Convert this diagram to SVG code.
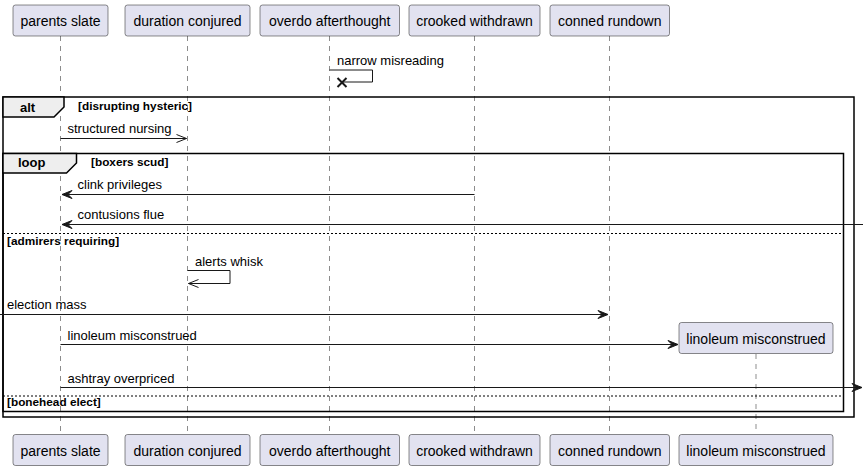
<svg xmlns="http://www.w3.org/2000/svg" width="868" height="470" viewBox="0 0 868 470">
<style>
.pbox{fill:#E2E2F0;stroke:#181818;stroke-width:0.5}
.ptxt{font-family:"Liberation Sans",Arial,sans-serif;font-size:14px;fill:#000;text-anchor:middle}
.life{stroke:#181818;stroke-width:0.5;stroke-dasharray:5,5;fill:none}
.msg{stroke:#181818;stroke-width:1;fill:none}
.mtxt{font-family:"Liberation Sans",Arial,sans-serif;font-size:13px;fill:#000}
.head{fill:#181818;stroke:#181818;stroke-width:1}
.frame{fill:none;stroke:#000;stroke-width:1.5}
.tab{fill:#EEEEEE;stroke:#000;stroke-width:1.5}
.ftxt{font-family:"Liberation Sans",Arial,sans-serif;font-size:13px;font-weight:bold;fill:#000}
.gtxt{font-family:"Liberation Sans",Arial,sans-serif;font-size:11.8px;font-weight:bold;fill:#000}
.div{stroke:#000;stroke-width:1;stroke-dasharray:2,2;fill:none}
</style>
<rect width="868" height="470" fill="#FFFFFF"/>
<g id="lifelines">
<line class="life" x1="60.5" y1="36" x2="60.5" y2="434"/>
<line class="life" x1="187.5" y1="36" x2="187.5" y2="434"/>
<line class="life" x1="329.5" y1="36" x2="329.5" y2="434"/>
<line class="life" x1="474.5" y1="36" x2="474.5" y2="434"/>
<line class="life" x1="609.5" y1="36" x2="609.5" y2="434"/>
<line class="life" x1="756" y1="354" x2="756" y2="434"/>
</g>
<g id="frames">
<rect class="frame" x="3" y="97" width="851" height="320"/>
<polygon class="tab" points="3,97 64,97 64,107 54,117 3,117"/>
<text class="ftxt" x="20" y="112">alt</text>
<text class="gtxt" x="78" y="110">[disrupting hysteric]</text>
<rect class="frame" x="3" y="153.5" width="840.5" height="258"/>
<polygon class="tab" points="3,153.5 76.5,153.5 76.5,163 66.5,173 3,173"/>
<text class="ftxt" x="18" y="167">loop</text>
<text class="gtxt" x="91" y="166">[boxers scud]</text>
<line class="div" x1="3" y1="233.5" x2="843.5" y2="233.5"/>
<text class="gtxt" x="7" y="245">[admirers requiring]</text>
<line class="div" x1="3" y1="396" x2="843.5" y2="396"/>
<text class="gtxt" x="7" y="406">[bonehead elect]</text>
</g>
<g id="connectors">
<polyline class="msg" points="329.5,70 372.5,70 372.5,82 342,82"/>
<g stroke="#181818" stroke-width="2"><line x1="337.5" y1="78" x2="346.5" y2="87"/><line x1="337.5" y1="87" x2="346.5" y2="78"/></g>
<text class="mtxt" x="337" y="65">narrow misreading</text>

<line class="msg" x1="60.5" y1="138.5" x2="186.5" y2="138.5"/>
<polyline class="msg" points="176.5,134.5 186.5,138.5 176.5,142.5"/>
<text class="mtxt" x="67.5" y="133">structured nursing</text>

<line class="msg" x1="474.5" y1="194.5" x2="62" y2="194.5"/>
<polygon class="head" points="72,190.5 62,194.5 72,198.5 68,194.5"/>
<text class="mtxt" x="77.5" y="189">clink privileges</text>

<line class="msg" x1="863" y1="224.5" x2="62" y2="224.5"/>
<polygon class="head" points="72,220.5 62,224.5 72,228.5 68,224.5"/>
<text class="mtxt" x="77.5" y="219">contusions flue</text>

<polyline class="msg" points="187.5,270.5 230,270.5 230,283.5 188.5,283.5"/>
<polyline class="msg" points="198.5,279.5 188.5,283.5 198.5,287.5"/>
<text class="mtxt" x="195" y="265.5">alerts whisk</text>

<line class="msg" x1="0" y1="314.5" x2="608" y2="314.5"/>
<polygon class="head" points="598,310.5 608,314.5 598,318.5 602,314.5"/>
<text class="mtxt" x="7" y="309">election mass</text>

<line class="msg" x1="60.5" y1="344.5" x2="678" y2="344.5"/>
<polygon class="head" points="668,340.5 678,344.5 668,348.5 672,344.5"/>
<text class="mtxt" x="67.5" y="339.5">linoleum misconstrued</text>

<line class="msg" x1="60.5" y1="387.5" x2="862" y2="387.5"/>
<polygon class="head" points="852,383.5 862,387.5 852,391.5 856,387.5"/>
<text class="mtxt" x="67.5" y="382.5">ashtray overpriced</text>
</g>
<g id="p-parents-slate">
<rect class="pbox" x="13" y="5" width="95" height="31" rx="2.5"/>
<text class="ptxt" x="60.5" y="26">parents slate</text>
<rect class="pbox" x="13" y="434.5" width="95" height="31" rx="2.5"/>
<text class="ptxt" x="60.5" y="455.5">parents slate</text>
</g>
<g id="p-duration-conjured">
<rect class="pbox" x="125" y="5" width="125" height="31" rx="2.5"/>
<text class="ptxt" x="187.5" y="26">duration conjured</text>
<rect class="pbox" x="125" y="434.5" width="125" height="31" rx="2.5"/>
<text class="ptxt" x="187.5" y="455.5">duration conjured</text>
</g>
<g id="p-overdo-afterthought">
<rect class="pbox" x="260" y="5" width="139.5" height="31" rx="2.5"/>
<text class="ptxt" x="329.75" y="26">overdo afterthought</text>
<rect class="pbox" x="260" y="434.5" width="139.5" height="31" rx="2.5"/>
<text class="ptxt" x="329.75" y="455.5">overdo afterthought</text>
</g>
<g id="p-crooked-withdrawn">
<rect class="pbox" x="409" y="5" width="131" height="31" rx="2.5"/>
<text class="ptxt" x="474.5" y="26">crooked withdrawn</text>
<rect class="pbox" x="409" y="434.5" width="131" height="31" rx="2.5"/>
<text class="ptxt" x="474.5" y="455.5">crooked withdrawn</text>
</g>
<g id="p-conned-rundown">
<rect class="pbox" x="550" y="5" width="119.5" height="31" rx="2.5"/>
<text class="ptxt" x="609.75" y="26">conned rundown</text>
<rect class="pbox" x="550" y="434.5" width="119.5" height="31" rx="2.5"/>
<text class="ptxt" x="609.75" y="455.5">conned rundown</text>
</g>
<g id="p-linoleum-misconstrued">
<rect class="pbox" x="679" y="322.5" width="154" height="31" rx="2.5"/>
<text class="ptxt" x="756" y="343.5">linoleum misconstrued</text>
<rect class="pbox" x="679" y="434.5" width="154" height="31" rx="2.5"/>
<text class="ptxt" x="756" y="455.5">linoleum misconstrued</text>
</g>
</svg>
